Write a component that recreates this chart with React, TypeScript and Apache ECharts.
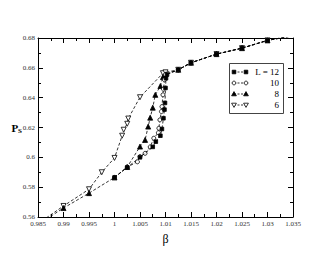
import React, { useEffect, useRef } from "react";
import * as echarts from "echarts";

const xTicks = [0.985, 0.99, 0.995, 1.0, 1.005, 1.01, 1.015, 1.02, 1.025, 1.03, 1.035];
const yTicks = [0.56, 0.58, 0.6, 0.62, 0.64, 0.66, 0.68];

const common: number[][] = [
  [1.0125, 0.6587], [1.015, 0.6634], [1.02, 0.6692], [1.025, 0.6732], [1.03, 0.6784], [1.035, 0.6815],
];

const L12: number[][] = [
  [1.0, 0.5865], [1.0025, 0.5933], [1.005, 0.6], [1.0075, 0.607], [1.0081, 0.6105], [1.009, 0.6145],
  [1.0093, 0.619], [1.0096, 0.6262], [1.0098, 0.632], [1.0099, 0.6365], [1.01, 0.6465], [1.0101, 0.653],
  [1.0103, 0.6555], ...common,
];
const L10: number[][] = [
  [1.0, 0.5865], [1.0025, 0.5935], [1.0045, 0.597], [1.005, 0.6005], [1.006, 0.6027], [1.007, 0.607],
  [1.0077, 0.6128], [1.0086, 0.6165], [1.0087, 0.6195], [1.0089, 0.6251], [1.0092, 0.6307], [1.0093, 0.634],
  [1.0095, 0.6419], [1.0096, 0.6457], [1.0098, 0.652], [1.01, 0.6555], ...common,
];
const L8: number[][] = [
  [0.985, 0.555], [0.99, 0.566], [0.995, 0.576], [1.0, 0.5865], [1.0025, 0.5935], [1.005, 0.6072],
  [1.006, 0.6117], [1.0066, 0.6206], [1.007, 0.6266], [1.0075, 0.6333], [1.008, 0.6419], [1.009, 0.6478],
  [1.0095, 0.6538], [1.01, 0.6556], ...common,
];
const L6: number[][] = [
  [0.985, 0.5555], [0.99, 0.5674], [0.995, 0.5786], [0.9975, 0.59], [1.0, 0.5996], [1.0015, 0.6145],
  [1.0018, 0.6185], [1.0025, 0.6225], [1.0027, 0.626], [1.005, 0.6403], [1.0095, 0.6564], [1.01, 0.657],
  ...common,
];

const names = ["L = 12", "10", "8", "6"];
const seriesData = [L12, L10, L8, L6];
const symbols = ["rect", "circle", "triangle", "triangle"];
const filled = [true, false, true, false];
const rotations = [0, 0, 0, 180];
const sizes = [3.6, 4, 5, 5];

function legendMarker(kind: number, cx: number, cy: number) {
  const style = { fill: filled[kind] ? "#000" : "#fff", stroke: "#000", lineWidth: 0.8 };
  if (kind === 0) return { type: "rect", shape: { x: cx - 1.8, y: cy - 1.8, width: 3.6, height: 3.6 }, style, z: 101 };
  if (kind === 1) return { type: "circle", shape: { cx, cy, r: 1.9 }, style, z: 101 };
  if (kind === 2)
    return { type: "polygon", shape: { points: [[cx, cy - 2.4], [cx + 2.4, cy + 1.8], [cx - 2.4, cy + 1.8]] }, style, z: 101 };
  return { type: "polygon", shape: { points: [[cx, cy + 2.4], [cx + 2.4, cy - 1.8], [cx - 2.4, cy - 1.8]] }, style, z: 101 };
}

export default function App() {
  const ref = useRef<HTMLDivElement>(null);
  useEffect(() => {
    if (!ref.current) return;
    const chart = echarts.init(ref.current, undefined, { renderer: "svg" });
    const font = "Liberation Serif";
    const axisLine = { show: true, lineStyle: { color: "#000", width: 1 } };
    const xBase = {
      type: "value" as const,
      min: 0.985,
      max: 1.035,
      interval: 0.005,
      axisLine,
      axisTick: { show: true, inside: true, length: 5, lineStyle: { color: "#000" } },
      minorTick: { show: true, splitNumber: 2, length: 3, lineStyle: { color: "#000" } },
      splitLine: { show: false },
    };
    const yBase = {
      type: "value" as const,
      min: 0.56,
      max: 0.68,
      interval: 0.02,
      axisLine,
      axisTick: { show: true, inside: true, length: 5, lineStyle: { color: "#000" } },
      minorTick: { show: true, splitNumber: 2, length: 3, lineStyle: { color: "#000" } },
      splitLine: { show: false },
    };
    const rowsY = [72, 83, 94, 105];
    const legendEls: any[] = [
      { type: "rect", shape: { x: 229.5, y: 63.5, width: 54, height: 50 }, style: { fill: "#fff", stroke: "#444", lineWidth: 1 }, z: 99 },
    ];
    rowsY.forEach((y, i) => {
      legendEls.push({
        type: "line",
        shape: { x1: 234, y1: y, x2: 246, y2: y },
        style: { stroke: "#000", lineWidth: 0.8, lineDash: [2, 1.5] },
        z: 100,
      });
      legendEls.push(legendMarker(i, 234, y));
      legendEls.push(legendMarker(i, 246, y));
      legendEls.push({
        type: "text",
        x: 279,
        y,
        style: { text: names[i], fontFamily: font, fontSize: 9, fill: "#000", align: "right", verticalAlign: "middle" },
        z: 101,
      });
    });
    chart.setOption({
      animation: false,
      backgroundColor: "#fff",
      grid: { left: 38, right: 37, top: 38, bottom: 38 },
      graphic: legendEls,
      xAxis: [
        {
          ...xBase,
          position: "bottom",
          name: "β",
          nameLocation: "middle",
          nameGap: 16,
          nameMoveOverlap: false,
          nameTextStyle: { fontFamily: font, fontSize: 12, color: "#000" },
          axisLabel: {
            fontFamily: font,
            fontSize: 7,
            color: "#333",
            margin: 3,
            formatter: (v: number) => String(parseFloat(v.toFixed(4))),
          },
        },
        { ...xBase, position: "top", axisLabel: { show: false } },
      ],
      yAxis: [
        {
          ...yBase,
          position: "left",
          name: "{p|P}{s|S}",
          nameLocation: "middle",
          nameRotate: 0,
          nameGap: 16,
          nameMoveOverlap: false,
          nameTextStyle: {
            rich: {
              p: { fontFamily: font, fontSize: 11, fontWeight: "bold", color: "#000" },
              s: { fontFamily: font, fontSize: 7, fontWeight: "bold", color: "#000", padding: [7, 0, 0, 0] },
            },
          },
          axisLabel: {
            fontFamily: font,
            fontSize: 7,
            color: "#333",
            margin: 3,
            formatter: (v: number) => String(parseFloat(v.toFixed(3))),
          },
        },
        { ...yBase, position: "right", axisLabel: { show: false } },
      ],
      series: seriesData.map((d, i) => ({
        name: names[i],
        type: "line",
        data: d,
        xAxisIndex: 0,
        yAxisIndex: 0,
        clip: true,
        symbol: symbols[i],
        symbolSize: sizes[i],
        symbolRotate: rotations[i],
        showAllSymbol: true,
        lineStyle: { color: "#000", width: 0.8, type: [3, 2] },
        itemStyle: { color: filled[i] ? "#000" : "#fff", borderColor: "#000", borderWidth: 0.8 },
        z: 10 - i,
      })),
    });
    return () => chart.dispose();
  }, []);
  return <div ref={ref} style={{ position: "fixed", left: 0, top: 0, width: 330, height: 255 }} />;
}
